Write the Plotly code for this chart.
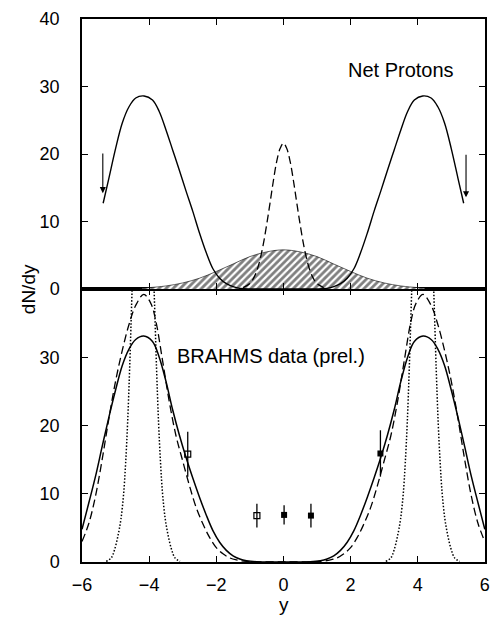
import plotly.graph_objects as go

# ---------------- data ----------------
# Top panel: net protons
top_solid_x = [-5.37, -5.2, -5.0, -4.8, -4.6, -4.4, -4.15, -3.9, -3.7, -3.5, -3.3, -3.1, -2.9, -2.7,
               -2.5, -2.3, -2.1, -1.9, -1.7, -1.5, -1.3, -1.0, -0.5, 0.0, 0.5, 1.0, 1.3, 1.5, 1.7,
               1.9, 2.1, 2.3, 2.5, 2.7, 2.9, 3.1, 3.3, 3.5, 3.7, 3.9, 4.15, 4.4, 4.6, 4.8, 5.0, 5.2, 5.37]
top_solid_y = [12.7, 16.4, 20.8, 24.6, 27.0, 28.3, 28.6, 28.0, 26.3, 23.6, 20.6, 17.6, 14.5, 11.5,
               8.3, 5.4, 3.0, 1.6, 0.8, 0.35, 0.1, 0.0, 0.0, 0.0, 0.0, 0.0, 0.1, 0.35, 0.8,
               1.6, 3.0, 5.4, 8.3, 11.5, 14.5, 17.6, 20.6, 23.6, 26.3, 28.0, 28.6, 28.3, 27.0, 24.6, 20.8, 16.4, 12.7]

top_dash_x = [-1.2, -1.0, -0.9, -0.8, -0.7, -0.6, -0.5, -0.4, -0.3, -0.2, -0.1, 0.0,
              0.1, 0.2, 0.3, 0.4, 0.5, 0.6, 0.7, 0.8, 0.9, 1.0, 1.2]
top_dash_y = [0.2, 0.8, 1.5, 2.6, 4.3, 6.6, 9.5, 12.7, 16.0, 18.9, 20.8, 21.6,
              20.8, 18.9, 16.0, 12.7, 9.5, 6.6, 4.3, 2.6, 1.5, 0.8, 0.2]

hatch_x = [-4.2, -4.0, -3.5, -3.0, -2.5, -2.0, -1.5, -1.0, -0.5, 0.0, 0.5, 1.0, 1.5, 2.0, 2.5, 3.0, 3.5, 4.0, 4.2]
hatch_y = [0.1, 0.2, 0.45, 0.9, 1.6, 2.6, 3.7, 4.8, 5.5, 5.8, 5.5, 4.8, 3.7, 2.6, 1.6, 0.9, 0.45, 0.2, 0.1]

arrow_x = [-5.38, 5.44]
arrow_from = [20.3, 20.1]
arrow_to = [14.2, 13.6]

# Bottom panel
bot_solid_x = [-6.0, -5.8, -5.6, -5.4, -5.2, -5.0, -4.8, -4.6, -4.4, -4.16, -3.9, -3.7, -3.5, -3.3,
               -3.1, -2.9, -2.7, -2.5, -2.3, -2.1, -1.9, -1.7, -1.5, -1.3, -1.1, -0.8, 0.0,
               0.8, 1.1, 1.3, 1.5, 1.7, 1.9, 2.1, 2.3, 2.5, 2.7, 2.9, 3.1, 3.3, 3.5, 3.7, 3.9,
               4.16, 4.4, 4.6, 4.8, 5.0, 5.2, 5.4, 5.6, 5.8, 6.0]
bot_solid_y = [4.8, 8.6, 12.5, 16.9, 21.2, 25.2, 28.8, 31.2, 32.6, 33.1, 32.3, 30.0, 26.5, 22.3,
               18.6, 15.3, 12.3, 9.5, 6.9, 4.6, 2.9, 1.7, 0.9, 0.45, 0.2, 0.05, 0.0,
               0.05, 0.2, 0.45, 0.9, 1.7, 2.9, 4.6, 6.9, 9.5, 12.3, 15.3, 18.6, 22.3, 26.5, 30.0, 32.3,
               33.1, 32.6, 31.2, 28.8, 25.2, 21.2, 16.9, 12.5, 8.6, 4.8]

bot_dash_x = [-6.0, -5.8, -5.6, -5.4, -5.2, -5.0, -4.8, -4.6, -4.4, -4.16, -3.95, -3.8, -3.6, -3.4,
              -3.2, -3.0, -2.8, -2.6, -2.4, -2.2, -2.0, -1.8, -1.6, -1.4, -1.1, -0.8, 0.0,
              0.8, 1.1, 1.4, 1.6, 1.8, 2.0, 2.2, 2.4, 2.6, 2.8, 3.0, 3.2, 3.4, 3.6, 3.8, 3.95,
              4.16, 4.4, 4.6, 4.8, 5.0, 5.2, 5.4, 5.6, 5.8, 6.0]
bot_dash_y = [3.0, 5.6, 9.6, 15.0, 21.0, 26.5, 31.0, 34.8, 37.6, 39.2, 37.9, 35.3, 29.5, 23.5,
              18.5, 14.8, 11.2, 8.0, 5.6, 3.6, 2.1, 1.2, 0.6, 0.3, 0.1, 0.02, 0.0,
              0.02, 0.1, 0.3, 0.6, 1.2, 2.1, 3.6, 5.6, 8.0, 11.2, 14.8, 18.5, 23.5, 29.5, 35.3, 37.9,
              39.2, 37.6, 34.8, 31.0, 26.5, 21.0, 15.0, 9.6, 5.6, 3.0]

dot_left_x = [-5.28, -5.13, -5.03, -4.93, -4.84, -4.76, -4.70, -4.64, -4.58, -4.52, -4.48, -4.43, -4.38,
              -4.33, -4.28, -4.18, -4.08, -4.03, -3.98, -3.93, -3.88, -3.84, -3.78, -3.72, -3.66,
              -3.60, -3.52, -3.43, -3.33, -3.23, -3.08]
dot_left_y = [0.1, 0.6, 1.8, 3.8, 6.3, 10.0, 14.5, 20.5, 28.5, 38.0, 44.0, 52.0, 59.5,
              66.0, 72.0, 78.0, 72.0, 66.0, 59.5, 52.0, 44.0, 38.0, 28.5, 20.5, 14.5,
              10.0, 6.3, 3.8, 1.8, 0.6, 0.1]
dot_right_x = [3.05, 3.20, 3.30, 3.40, 3.49, 3.57, 3.63, 3.69, 3.75, 3.81, 3.85, 3.90, 3.95,
               4.00, 4.05, 4.15, 4.25, 4.30, 4.35, 4.40, 4.45, 4.49, 4.55, 4.61, 4.67,
               4.73, 4.81, 4.90, 5.00, 5.10, 5.25]
dot_right_y = [0.1, 0.6, 1.8, 3.8, 6.3, 10.0, 14.5, 20.5, 28.5, 38.0, 44.0, 52.0, 59.5,
               66.0, 72.0, 78.0, 72.0, 66.0, 59.5, 52.0, 44.0, 38.0, 28.5, 20.5, 14.5,
               10.0, 6.3, 3.8, 1.8, 0.6, 0.1]

open_x = [-2.85, -0.79]
open_y = [15.8, 6.8]
open_err = [3.3, 1.75]
fill_x = [0.02, 0.82, 2.89]
fill_y = [6.9, 6.8, 15.9]
fill_err = [1.4, 1.75, 3.4]

x_ticks = [-6, -4, -2, 0, 2, 4, 6]
top_y_ticks = [0, 10, 20, 30, 40]
bot_y_ticks = [0, 10, 20, 30]

# ---------------- figure ----------------
FONT = "Liberation Sans, Arial, Helvetica, sans-serif"
BLK = "black"
fig = go.Figure()

# top panel (x2, y2)
fig.add_trace(go.Scatter(x=hatch_x, y=hatch_y, xaxis="x2", yaxis="y2", mode="lines",
                         line=dict(color=BLK, width=0.6, shape="spline"), fill="tozeroy",
                         fillcolor="rgba(0,0,0,0)",
                         fillpattern=dict(shape="/", fgcolor=BLK, bgcolor="white", size=5, solidity=0.55),
                         hoverinfo="skip"))
fig.add_trace(go.Scatter(x=top_solid_x, y=top_solid_y, xaxis="x2", yaxis="y2", mode="lines",
                         line=dict(color=BLK, width=1.4, shape="spline")))
fig.add_trace(go.Scatter(x=top_dash_x, y=top_dash_y, xaxis="x2", yaxis="y2", mode="lines",
                         line=dict(color=BLK, width=1.3, dash="8px,4px", shape="spline")))

# bottom panel (x, y)
fig.add_trace(go.Scatter(x=dot_left_x, y=dot_left_y, mode="lines",
                         line=dict(color=BLK, width=1.5, dash="1.5px,1.8px", shape="spline")))
fig.add_trace(go.Scatter(x=dot_right_x, y=dot_right_y, mode="lines",
                         line=dict(color=BLK, width=1.5, dash="1.5px,1.8px", shape="spline")))
fig.add_trace(go.Scatter(x=bot_dash_x, y=bot_dash_y, mode="lines",
                         line=dict(color=BLK, width=1.3, dash="8px,4px", shape="spline")))
fig.add_trace(go.Scatter(x=bot_solid_x, y=bot_solid_y, mode="lines",
                         line=dict(color=BLK, width=1.5, shape="spline")))
fig.add_trace(go.Scatter(x=open_x, y=open_y, mode="markers",
                         marker=dict(symbol="square-open", size=6, color=BLK, line=dict(width=1.2)),
                         error_y=dict(type="data", array=open_err, color=BLK, thickness=1.3, width=0)))
fig.add_trace(go.Scatter(x=fill_x, y=fill_y, mode="markers",
                         marker=dict(symbol="square", size=6, color=BLK),
                         error_y=dict(type="data", array=fill_err, color=BLK, thickness=1.3, width=0)))

split = 273 / 543
axis_common = dict(showline=True, linecolor=BLK, linewidth=1.5, mirror="ticks", ticks="inside",
                   ticklen=6, tickwidth=1.2, tickcolor=BLK, showgrid=False, zeroline=False,
                   tickfont=dict(family=FONT, size=18, color=BLK))

fig.update_layout(
    width=496, height=618,
    margin=dict(l=82, r=6, t=19, b=56),
    paper_bgcolor="white", plot_bgcolor="white",
    showlegend=False,
    font=dict(family=FONT, color=BLK),
    xaxis=dict(domain=[0, 1], range=[-6, 6.005], anchor="y", tickvals=x_ticks,
               ticklabelstandoff=6, ticklabeloverflow="allow", **axis_common),
    yaxis=dict(domain=[0, split], range=[0, 40], anchor="x", tickvals=bot_y_ticks,
               ticklabelstandoff=17, **axis_common),
    xaxis2=dict(domain=[0, 1], range=[-6, 6.005], anchor="y2", tickvals=[-4, -2, 0, 2, 4],
                showticklabels=False, **axis_common),
    yaxis2=dict(domain=[split, 1], range=[0, 40], anchor="x2", tickvals=top_y_ticks,
                ticklabelstandoff=17, **axis_common),
)

annotations = []
for ax_, a0, a1 in zip(arrow_x, arrow_from, arrow_to):
    annotations.append(dict(x=ax_, y=a1, ax=ax_, ay=a0, xref="x2", yref="y2", axref="x2", ayref="y2",
                            showarrow=True, arrowhead=2, arrowsize=1.1, arrowwidth=1.1, arrowcolor=BLK,
                            text=""))
annotations += [
    dict(text="Net Protons", x=1.85, y=32.4, xref="x2", yref="y2", xanchor="left", yanchor="middle",
         showarrow=False, font=dict(family=FONT, size=20, color=BLK)),
    dict(text="BRAHMS data (prel.)", x=-3.24, y=30.2, xref="x", yref="y", xanchor="left",
         yanchor="middle", showarrow=False, font=dict(family=FONT, size=20, color=BLK)),
    dict(text="dN/dy", x=(27.5 - 82) / 408, y=(562 - 289) / 543, xref="paper", yref="paper",
         textangle=-90, showarrow=False, xanchor="center", yanchor="middle",
         font=dict(family=FONT, size=19, color=BLK)),
    dict(text="y", x=(287 - 82) / 408, y=(562 - 604) / 543, xref="paper", yref="paper",
         showarrow=False, xanchor="center", yanchor="middle", font=dict(family=FONT, size=19, color=BLK)),
]
fig.update_layout(annotations=annotations)

fig.write_html("out.html", config={"displayModeBar": False},
               post_script="document.body.style.margin='0';")
